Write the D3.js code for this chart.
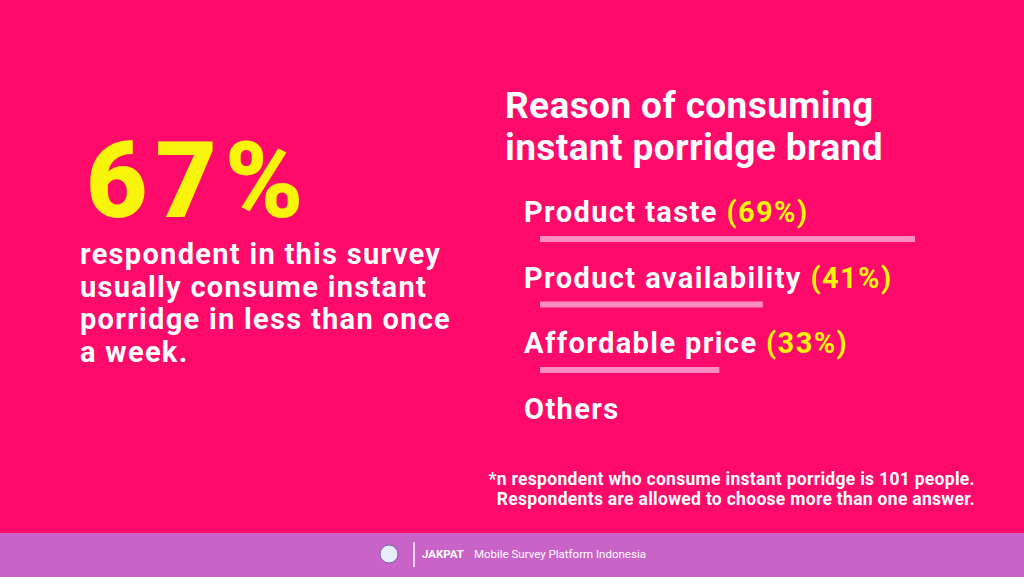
<!DOCTYPE html><html><head><meta charset="utf-8"><script src="https://cdn.jsdelivr.net/npm/d3@7"></script>
<style>body{margin:0}svg{display:block}text{font-family:Roboto,sans-serif}</style></head><body><script>
const categories=["Product taste","Product availability","Affordable price","Others"];
const values=[69,41,33,null];
const W=1024,H=577;
const svg=d3.select("body").append("svg").attr("width",W).attr("height",H);
svg.append("rect").attr("width",W).attr("height",H).attr("fill","#fe0a6a");
svg.append("rect").attr("y",533).attr("width",W).attr("height",44).attr("fill","#c963c8");
svg.append("text").attr("x",86).attr("y",217).attr("fill","#f8f40c").attr("font-size",106).attr("font-weight",900).attr("letter-spacing",8).text("67%");
["respondent in this survey","usually consume instant","porridge in less than once","a week."].forEach((t,i)=>
 svg.append("text").attr("x",80).attr("y",264+i*32.5).attr("fill","#fff").attr("font-size",29).attr("font-weight",700).text(t).attr("letter-spacing",1.3));
["Reason of consuming","instant porridge brand"].forEach((t,i)=>
 svg.append("text").attr("x",505).attr("y",118+i*42).attr("fill","#fff").attr("font-size",37).attr("font-weight",700).attr("letter-spacing",0.4).text(t));
const x=d3.scaleLinear().domain([0,69]).range([540,915]);
categories.forEach((c,i)=>{
 const y=222+i*65.5;
 const t=svg.append("text").attr("x",524).attr("y",y).attr("fill","#fff").attr("font-size",29).attr("font-weight",700).attr("letter-spacing",1.4);
 t.append("tspan").text(c);
 if(values[i]!=null){
  t.append("tspan").attr("fill","#f8f40c").text(" ("+values[i]+"%)");
  svg.append("rect").attr("x",x(0)).attr("y",y+14).attr("width",x(values[i])-x(0)).attr("height",6).attr("fill","#fd8cc0");
 }
});
svg.append("text").attr("x",975).attr("y",485).attr("text-anchor","end").attr("fill","#fff").attr("font-size",17.5).attr("font-weight",700).attr("letter-spacing",0.3).text("*n respondent who consume instant porridge is 101 people.");
svg.append("text").attr("x",975).attr("y",505).attr("text-anchor","end").attr("fill","#fff").attr("font-size",17.5).attr("font-weight",700).attr("letter-spacing",0.3).text("Respondents are allowed to choose more than one answer.");
svg.append("circle").attr("cx",389).attr("cy",554).attr("r",9).attr("fill","#e8eef8").attr("stroke","#6a6ab0");
svg.append("rect").attr("x",413).attr("y",542).attr("width",2).attr("height",25).attr("fill","#f4d0f0");
const f=svg.append("text").attr("x",422).attr("y",558).attr("fill","#fff").attr("font-size",11.5);
f.append("tspan").attr("font-weight",700).text("JAKPAT");
f.append("tspan").attr("fill","#ff4a8a").attr("font-weight",700).text(" - ");
f.append("tspan").text("Mobile Survey Platform Indonesia");
</script></body></html>
